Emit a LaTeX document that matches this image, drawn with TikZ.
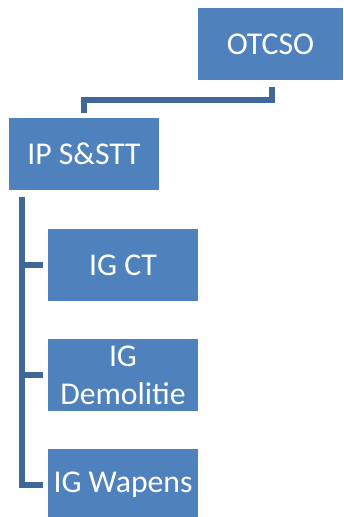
\documentclass[tikz,border=0pt]{standalone}
\usepackage{fontspec}
\setmainfont{Carlito}
\definecolor{boxblue}{HTML}{4F81BD}
\definecolor{lineblue}{HTML}{3F6797}
\begin{document}
\begin{tikzpicture}[x=1pt,y=-1pt,
  orgbox/.style={fill=boxblue, draw=none, text=white, minimum width=150pt, minimum height=72pt,
    inner sep=2pt, align=center, font=\fontsize{31.7}{38}\selectfont},
  conn/.style={draw=lineblue, line width=5.5pt, line join=miter}]
\useasboundingbox (0,0) rectangle (343,517);
\fill[white] (0,0) rectangle (343,517);
\node[orgbox, minimum width=145pt] (otcso) at (270.5,44) {OTCSO};
\node[orgbox] (ip) at (84,154) {IP S\&STT};
\node[orgbox] (ct) at (123,265) {IG CT};
\node[orgbox] (dem) at (123,375) {IG\\Demolitie};
\node[orgbox] (wap) at (123,485) {IG Wapens};
\coordinate (top) at (272,87);
\coordinate (mid) at (0,100);
\coordinate (trunk) at (22,197);
\draw[conn] (top) |- (mid -| ip.north) -- ([yshift=5pt]ip.north);
\draw[conn] (trunk) |- ([xshift=-5pt]wap.west);
\draw[conn] (trunk |- ct.west) -- ([xshift=-5pt]ct.west);
\draw[conn] (trunk |- dem.west) -- ([xshift=-5pt]dem.west);
\end{tikzpicture}
\end{document}
